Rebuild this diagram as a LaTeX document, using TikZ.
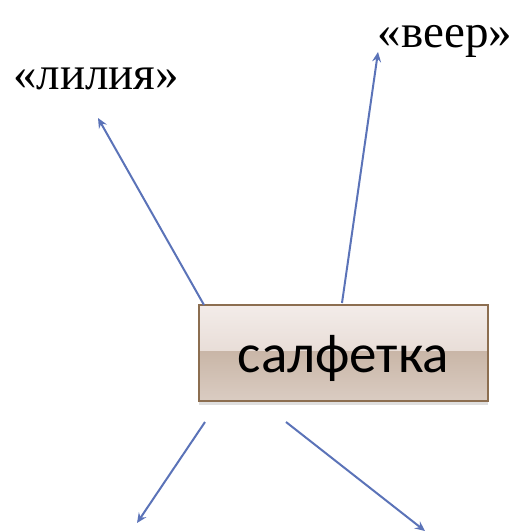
\documentclass[tikz,border=0pt]{standalone}
\usepackage{fontspec}
\setmainfont{Liberation Serif}
\newfontfamily\boxfont{Carlito}
\usetikzlibrary{arrows.meta,shadows,shadings}
\definecolor{arrowblue}{HTML}{5B73B8}
\definecolor{boxedge}{HTML}{8C6E50}
\definecolor{gtop}{HTML}{F3ECE9}
\definecolor{gmidA}{HTML}{DDCEC5}
\definecolor{gmidB}{HTML}{C9B6A7}
\definecolor{gbot}{HTML}{DACCC2}
\tikzset{
  conn/.style={draw=arrowblue, line width=2pt, -{Stealth[length=10pt,width=9pt,inset=3.5pt]}},
  label/.style={inner sep=0pt, anchor=base, font=\fontsize{47}{52}\selectfont},
  mainbox/.style={minimum width=289pt, minimum height=96pt, inner sep=0pt,
    draw=boxedge, line width=1.8pt,
    drop shadow={opacity=0.25, shadow xshift=0pt, shadow yshift=-4pt},
    path picture={
      \shade[top color=gtop, bottom color=gmidA]
        (path picture bounding box.north west) rectangle ([yshift=2pt]path picture bounding box.east);
      \shade[top color=gmidB, bottom color=gbot]
        ([yshift=2pt]path picture bounding box.west) rectangle (path picture bounding box.south east);
    }}
}
\begin{document}
\begin{tikzpicture}[x=1pt,y=-1pt]
\useasboundingbox (0,0) rectangle (524,532);
\node[mainbox] (box) at (343.5,353) {};
\node[inner sep=0pt, font=\boxfont\fontsize{55}{60}\selectfont] (boxtext) at (343.5,358) {салфетка};
\node[label] (lilia) at (96,90) {«лилия»};
\node[label] (veer) at (445,48) {«веер»};
\coordinate (s1) at (204,305);
\coordinate (t1) at (98,118);
\coordinate (s2) at (342,303);
\coordinate (t2) at (378,52);
\coordinate (s3) at (205,422);
\coordinate (t3) at (137,523);
\coordinate (s4) at (286,422);
\coordinate (t4) at (425,531);
\draw[conn] (s1) -- (t1);
\draw[conn] (s2) -- (t2);
\draw[conn] (s3) -- (t3);
\draw[conn] (s4) -- (t4);
\end{tikzpicture}
\end{document}
